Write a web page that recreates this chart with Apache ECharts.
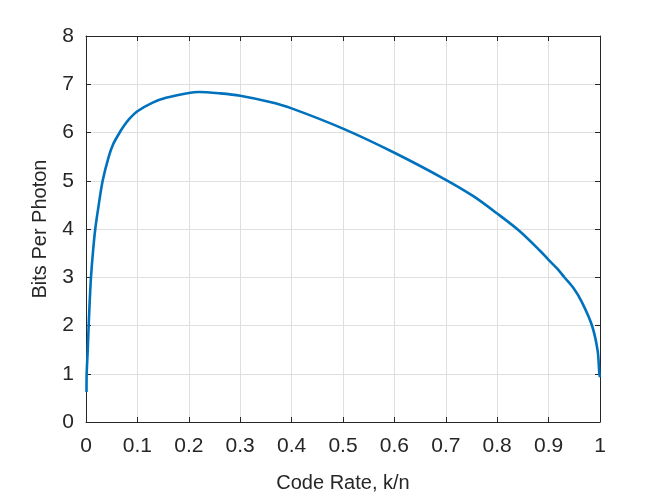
<!DOCTYPE html>
<html>
<head>
<meta charset="utf-8">
<script src="https://cdn.jsdelivr.net/npm/echarts@6/dist/echarts.min.js"></script>
<style>html,body{margin:0;padding:0;background:#fff;}#c{width:664px;height:498px;}</style>
</head>
<body>
<div id="c"></div>
<script>
const codeRate = [0.001, 0.0013, 0.0033, 0.0052, 0.0072, 0.0097, 0.0136, 0.018, 0.0246, 0.0324, 0.044, 0.053, 0.0655, 0.0726, 0.0843, 0.1, 0.1297, 0.1556, 0.2, 0.219, 0.261, 0.3, 0.358, 0.4, 0.5, 0.6, 0.7, 0.7536, 0.8, 0.8444, 0.8833, 0.9, 0.9177, 0.9306, 0.948, 0.964, 0.9844, 0.9955, 0.9987, 1.0];
const bitsPerPhoton = [0.62, 1.0, 1.47, 2.0, 2.5, 3.0, 3.53, 4.0, 4.49, 5.0, 5.49, 5.76, 6.0, 6.12, 6.28, 6.44, 6.62, 6.72, 6.82, 6.84, 6.81, 6.76, 6.63, 6.50, 6.08, 5.58, 5.02, 4.68, 4.32, 3.95, 3.55, 3.36, 3.17, 3.0, 2.78, 2.5, 2.0, 1.47, 1.0, 0.93];
const xTicks = ['0', '0.1', '0.2', '0.3', '0.4', '0.5', '0.6', '0.7', '0.8', '0.9', '1'];
const yTicks = ['0', '1', '2', '3', '4', '5', '6', '7', '8'];
const xTitle = 'Code Rate, k/n';
const yTitle = 'Bits Per Photon';

const FONT = 'Liberation Sans, Arial, Helvetica, sans-serif';
const AX = '#262626';
const chart = echarts.init(document.getElementById('c'), null, {renderer: 'canvas'});
const data = codeRate.map((x, i) => [x, bitsPerPhoton[i]]);
const boxAxis = (pos) => ({
  type: 'value', position: pos, min: 0, max: pos === 'top' ? 1 : 8, interval: pos === 'top' ? 0.1 : 1,
  axisLine: {show: true, onZero: false, lineStyle: {color: AX, width: 1}},
  axisTick: {show: true, inside: true, length: 5, lineStyle: {color: AX}},
  axisLabel: {show: false}, splitLine: {show: false}
});
chart.setOption({
  animation: false,
  backgroundColor: '#fff',
  grid: {left: 86, right: 64, top: 36, bottom: 73, containLabel: false},
  xAxis: [{
    type: 'value', position: 'bottom', min: 0, max: 1, interval: 0.1,
    name: xTitle, nameLocation: 'middle', nameGap: 51,
    nameTextStyle: {fontFamily: FONT, fontSize: 20, color: AX},
    axisLine: {show: true, onZero: false, lineStyle: {color: AX, width: 1}},
    axisTick: {show: true, inside: true, length: 5, lineStyle: {color: AX}},
    axisLabel: {margin: 14, fontFamily: FONT, fontSize: 21, color: AX,
      formatter: (v) => xTicks[Math.round(v * 10)]},
    splitLine: {show: true, lineStyle: {color: '#dfdfdf', width: 1}}
  }, boxAxis('top')],
  yAxis: [{
    type: 'value', position: 'left', min: 0, max: 8, interval: 1,
    name: yTitle, nameLocation: 'middle', nameGap: 36,
    nameTextStyle: {fontFamily: FONT, fontSize: 20, color: AX},
    axisLine: {show: true, onZero: false, lineStyle: {color: AX, width: 1}},
    axisTick: {show: true, inside: true, length: 5, lineStyle: {color: AX}},
    axisLabel: {margin: 12, fontFamily: FONT, fontSize: 21, color: AX,
      formatter: (v) => yTicks[Math.round(v)]},
    splitLine: {show: true, lineStyle: {color: '#dfdfdf', width: 1}}
  }, boxAxis('right')],
  series: [{
    type: 'line', data: data, xAxisIndex: 0, yAxisIndex: 0,
    showSymbol: false, smooth: 0.3,
    lineStyle: {color: '#0072BD', width: 2.6}, clip: false
  }]
});
</script>
</body>
</html>
